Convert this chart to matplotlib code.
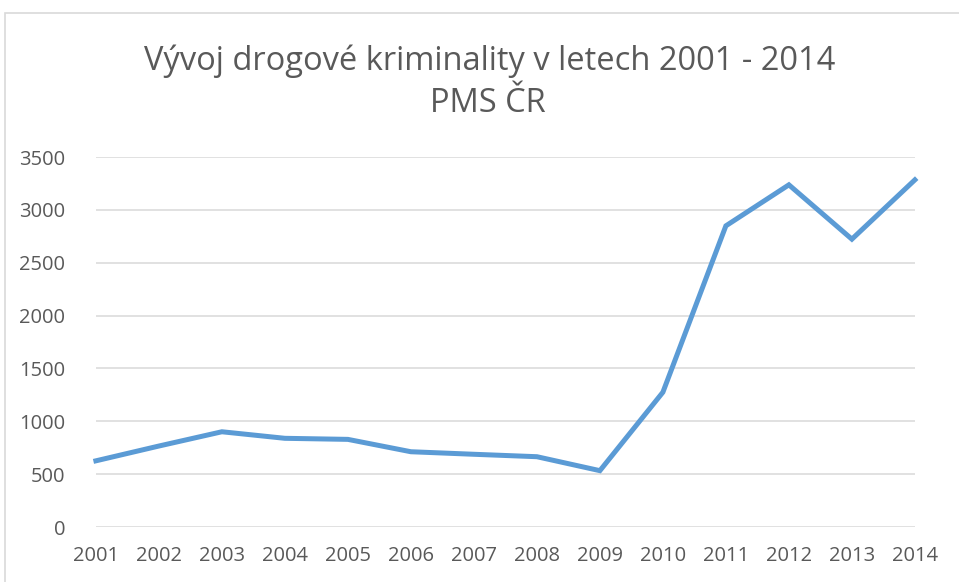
import numpy as np
import matplotlib.pyplot as plt
from matplotlib.patches import Rectangle

plt.rcParams['font.family'] = ['Open Sans', 'DejaVu Sans']

years = [2001, 2002, 2003, 2004, 2005, 2006, 2007, 2008, 2009, 2010, 2011, 2012, 2013, 2014]
cases = [626, 766, 901, 839, 829, 712, 688, 665, 533, 1275, 2849, 3237, 2723, 3284]
yticks = [0, 500, 1000, 1500, 2000, 2500, 3000, 3500]

title1 = "Vývoj drogové kriminality v letech 2001 - 2014"
title2 = "PMS ČR"

fig = plt.figure(figsize=(9.59, 5.82), dpi=100)
ax = fig.add_axes([0.1, 0.0945, 0.854, 0.6357])

# chart border (only left/top visible in the crop)
fig.patches.append(Rectangle((5 / 959, -0.1), 1.2, 1.1 - 13 / 582,
                             transform=fig.transFigure, fill=False,
                             edgecolor='#d9d9d9', lw=1.2))

ax.plot(years, cases, color='#5b9bd5', lw=3.6, solid_joinstyle='miter', clip_on=False, zorder=3)

ax.set_xlim(2001, 2014)
ax.set_ylim(0, 3500)
ax.set_yticks(yticks)
ax.set_xticks(years)
ax.grid(axis='y', color='#d9d9d9', lw=1.1)
ax.set_axisbelow(True)
for s in ax.spines.values():
    s.set_visible(False)
ax.tick_params(length=0, labelsize=14.5, colors='#595959')
ax.tick_params(axis='y', pad=22)
ax.tick_params(axis='x', pad=14)

fig.text(0.511, 0.895, title1, ha='center', va='center', fontsize=23.5, color='#595959')
fig.text(0.509, 0.822, title2, ha='center', va='center', fontsize=23.5, color='#595959')

fig.savefig('out.png', dpi=100)
